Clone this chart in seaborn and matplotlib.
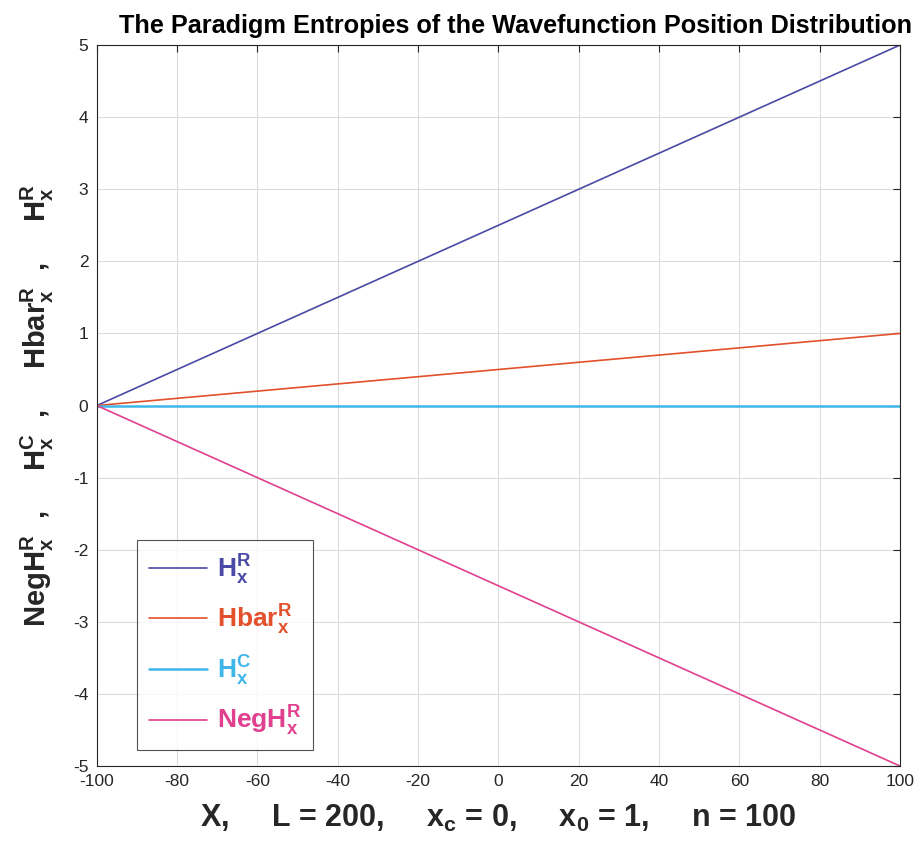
import matplotlib
matplotlib.use("Agg")
import matplotlib.pyplot as plt
import seaborn as sns
import pandas as pd

# Position grid and entropy values along it
x_vals = [-100, -50, 0, 50, 100]
h_r = [0.0, 1.25, 2.5, 3.75, 5.0]
hbar_r = [0.0, 0.25, 0.5, 0.75, 1.0]
h_c = [0.0, 0.0, 0.0, 0.0, 0.0]
neg_h_r = [0.0, -1.25, -2.5, -3.75, -5.0]

series_names = [r"H$_x^R$", r"Hbar$_x^R$", r"H$_x^C$", r"NegH$_x^R$"]
series_colors = ["#4a4aa6", "#e2502c", "#3fb6e8", "#e0408e"]
x_ticks = list(range(-100, 101, 20))
y_ticks = list(range(-5, 6, 1))

sns.set_style("whitegrid")
plt.rcParams["font.family"] = ["Liberation Sans", "DejaVu Sans"]
plt.rcParams["axes.unicode_minus"] = False
plt.rcParams["mathtext.default"] = "regular"

df = pd.DataFrame({
    "x": x_vals * 4,
    "value": h_r + hbar_r + h_c + neg_h_r,
    "series": sum([[n] * len(x_vals) for n in series_names], []),
})

fig = plt.figure(figsize=(9.22, 8.51), dpi=100)
ax = fig.add_axes([0.105, 0.0999, 0.871, 0.8471])

widths = {series_names[0]: 1.2, series_names[1]: 1.2,
          series_names[2]: 1.8, series_names[3]: 1.2}
for name, color in zip(series_names, series_colors):
    sub = df[df["series"] == name]
    sns.lineplot(data=sub, x="x", y="value", ax=ax, color=color,
                 linewidth=widths[name], label=name)

ax.set_xlim(-100, 100)
ax.set_ylim(-5, 5)
ax.set_xticks(x_ticks)
ax.set_yticks(y_ticks)
ax.grid(True, color="#dcdcdc", linewidth=0.8)
ax.tick_params(axis="both", direction="in", length=5, width=0.8,
               colors="#262626", labelsize=12.5, top=True, right=True,
               labelcolor="#262626", pad=6)
for s in ax.spines.values():
    s.set_visible(True)
    s.set_color("#262626")
    s.set_linewidth(0.8)

ax.set_title("The Paradigm Entropies of the Wavefunction Position Distribution",
             fontsize=18.2, fontweight="bold", pad=9, color="black", x=0.522)
ax.set_xlabel(r"X,     L = 200,     x$_c$ = 0,     x$_0$ = 1,     n = 100",
              fontsize=22, fontweight="bold", color="#262626", labelpad=10)
ax.set_ylabel(r"NegH$_x^R$  ,     H$_x^C$  ,     Hbar$_x^R$  ,     H$_x^R$",
              fontsize=21, fontweight="bold", color="#262626", labelpad=12)

leg = ax.legend(loc="lower left", bbox_to_anchor=(0.05, 0.022),
                prop={"weight": "bold", "size": 19},
                frameon=True, fancybox=False,
                handlelength=2.2, labelspacing=0.62, borderpad=0.45,
                handletextpad=0.4, borderaxespad=0.0)
leg.get_frame().set_edgecolor("#262626")
leg.get_frame().set_linewidth(0.8)
for text, color in zip(leg.get_texts(), series_colors):
    text.set_color(color)

fig.savefig("out.png", dpi=100, facecolor="white")
